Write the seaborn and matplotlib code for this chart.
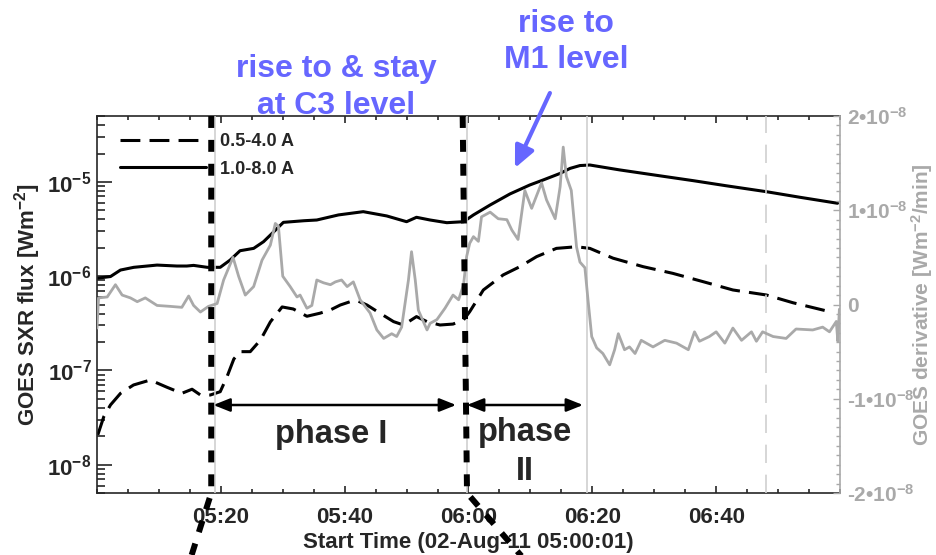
import numpy as np
import pandas as pd
import matplotlib
matplotlib.use("Agg")
import matplotlib.pyplot as plt
import matplotlib.ticker as mticker
import matplotlib.transforms as mtransforms
import seaborn as sns

# ---------------------------------------------------------------------------
# GOES light curves, time in minutes after 02-Aug-11 05:00:01
# ---------------------------------------------------------------------------
long_t = [0.03, 2.18, 3.79, 5.94, 9.7, 12.9, 14.5, 15.6, 17.8, 19.9, 21.5, 23.1,
          25.3, 26.9, 28.3, 30.1, 33.4, 35.5, 39.0, 43.0, 46.8, 50.0, 51.6, 53.8,
          56.5, 59.2, 60.8, 63.5, 66.7, 69.9, 72.1, 74.8, 76.4, 78.0, 79.6, 84.4,
          90.9, 96.3, 101.6, 108.1, 113.5, 119.6]
long_flux = [9.5e-7, 9.9e-7, 1.16e-6, 1.24e-6, 1.31e-6, 1.28e-6, 1.28e-6, 1.30e-6,
             1.24e-6, 1.24e-6, 1.48e-6, 1.86e-6, 1.97e-6, 2.32e-6, 2.85e-6, 3.72e-6,
             3.87e-6, 3.94e-6, 4.46e-6, 4.83e-6, 4.35e-6, 3.78e-6, 4.21e-6, 3.94e-6,
             3.69e-6, 3.78e-6, 4.46e-6, 5.69e-6, 7.45e-6, 9.27e-6, 1.05e-5, 1.23e-5,
             1.39e-5, 1.49e-5, 1.51e-5, 1.34e-5, 1.16e-5, 1.03e-5, 9.1e-6, 7.87e-6,
             6.87e-6, 5.93e-6]

short_t = [0.13, 1.1, 2.18, 3.8, 5.9, 8.6, 11.3, 13.7, 15.35, 16.7, 18.3, 19.9,
           21.0, 22.1, 23.1, 24.75, 26.4, 28.0, 29.9, 31.7, 33.9, 36.0, 37.7, 39.3,
           40.9, 42.0, 43.6, 45.7, 47.9, 49.5, 51.6, 53.3, 55.4, 57.5, 59.2, 60.2,
           62.4, 65.6, 68.3, 71.0, 74.2, 77.45, 79.6, 83.35, 88.2, 93.0, 97.9,
           102.7, 108.1, 112.4, 118.3]
short_flux = [2.07e-8, 3.23e-8, 4.30e-8, 5.71e-8, 7.0e-8, 7.9e-8, 6.62e-8, 5.71e-8,
              6.31e-8, 5.48e-8, 5.48e-8, 5.94e-8, 8.57e-8, 1.32e-7, 1.58e-7, 1.58e-7,
              2.10e-7, 3.27e-7, 4.71e-7, 4.48e-7, 3.75e-7, 4.04e-7, 4.38e-7, 4.94e-7,
              5.36e-7, 5.50e-7, 4.94e-7, 4.04e-7, 3.29e-7, 3.03e-7, 3.72e-7, 3.29e-7,
              3.03e-7, 3.10e-7, 3.43e-7, 4.20e-7, 7.13e-7, 1.03e-6, 1.26e-6, 1.61e-6,
              1.97e-6, 2.05e-6, 1.97e-6, 1.55e-6, 1.26e-6, 1.07e-6, 8.73e-7, 7.13e-7,
              6.31e-7, 5.22e-7, 4.20e-7]

# time derivative of the 1.0-8.0 A flux, in units of 1e-8 W m^-2 / min
deriv_t = [0.0, 0.25, 1.65, 2.98, 4.06, 5.4, 6.5, 7.8, 9.7, 11.85, 13.7, 14.8, 15.6,
           16.7, 18.0, 19.4, 20.45, 21.97, 22.87, 23.95, 25.3, 26.65, 28.0, 28.8,
           29.3, 30.0, 31.2, 32.3, 32.8, 33.9, 34.7, 35.5, 36.6, 37.7, 38.5, 39.5,
           40.4, 41.4, 42.5, 44.1, 45.2, 46.3, 47.6, 48.4, 49.2, 50.3, 50.8, 51.4,
           51.9, 53.3, 53.8, 54.9, 56.2, 57.5, 58.4, 59.2, 59.7, 60.2, 60.8, 61.6,
           62.1, 63.5, 64.8, 66.2, 67.0, 68.0, 69.1, 70.2, 71.8, 72.6, 74.0, 74.8,
           75.3, 75.8, 76.6, 77.45, 78.0, 78.8, 79.3, 79.9, 80.7, 81.7, 82.8, 83.6,
           84.2, 85.2, 86.0, 86.9, 87.9, 89.8, 91.7, 93.6, 95.5, 96.5, 97.3, 98.9,
           100.0, 101.4, 102.7, 104.1, 105.7, 106.5, 107.5, 109.2, 111.3, 112.9,
           115.6, 117.2, 118.3, 119.4, 119.65, 119.9]
deriv_val = [-0.25, 0.07, 0.08, 0.21, 0.10, 0.07, 0.03, 0.07, -0.01, -0.02, -0.03,
             0.09, -0.01, -0.08, -0.02, 0.01, 0.26, 0.50, 0.30, 0.10, 0.19, 0.47,
             0.63, 0.86, 0.83, 0.30, 0.19, 0.08, 0.10, -0.04, -0.01, 0.26, 0.23,
             0.21, 0.24, 0.26, 0.19, 0.24, 0.05, -0.09, -0.27, -0.36, -0.31, -0.34,
             -0.24, 0.26, 0.56, 0.26, -0.06, -0.27, -0.20, -0.16, -0.04, 0.10, 0.05,
             0.21, 0.51, 0.65, 0.72, 0.67, 0.93, 0.98, 0.91, 0.90, 0.79, 0.69, 1.21,
             1.02, 1.29, 1.11, 0.91, 1.25, 1.67, 1.36, 1.21, 0.61, 0.45, 0.39, 0.05,
             -0.34, -0.46, -0.52, -0.64, -0.48, -0.31, -0.48, -0.45, -0.52, -0.38,
             -0.45, -0.38, -0.41, -0.48, -0.29, -0.39, -0.34, -0.29, -0.41, -0.25,
             -0.38, -0.29, -0.39, -0.29, -0.34, -0.36, -0.26, -0.27, -0.24, -0.29,
             -0.18, -0.39, -0.05]

# axis ticks
xtick_pos = [20, 40, 60, 80, 100]
xtick_labels = ["05:20", "05:40", "06:00", "06:20", "06:40"]
ytick_pos = [1e-8, 1e-7, 1e-6, 1e-5]
ytick_labels = ["10$^{-8}$", "10$^{-7}$", "10$^{-6}$", "10$^{-5}$"]
rtick_pos = [-2, -1, 0, 1, 2]
rtick_labels = ["-2\u202210$^{-8}$", "-1\u202210$^{-8}$", "0",
                "1\u202210$^{-8}$", "2\u202210$^{-8}$"]

# event markers (minutes)
phase_bounds = [18.45, 59.06]          # start of phase I, start of phase II
ref_lines_solid = [19.0, 59.8, 79.06]
ref_lines_dashed = [108.1]
phase1_span = (18.8, 58.0)
phase2_span = (59.75, 78.5)

GRAY = "#a9a9a9"
LIGHT = "#cfcfcf"
BLUE = "#6666ff"

sns.set_style("ticks")
plt.rcParams.update({
    "font.family": ["Liberation Sans", "DejaVu Sans"],
    "font.weight": "bold",
    "mathtext.fontset": "custom",
    "mathtext.rm": "Liberation Sans:bold",
    "mathtext.bf": "Liberation Sans:bold",
    "mathtext.it": "Liberation Sans:italic:bold",
    "mathtext.default": "rm",
    "axes.linewidth": 1.2,
})

fig = plt.figure(figsize=(9.37, 5.55), dpi=100)
ax = fig.add_axes([97 / 937, 1 - 493 / 555, 743 / 937, 377 / 555])

long_df = pd.DataFrame({"t": long_t, "flux": long_flux})
short_df = pd.DataFrame({"t": short_t, "flux": short_flux})
deriv_df = pd.DataFrame({"t": deriv_t, "d": deriv_val})

sns.lineplot(data=short_df, x="t", y="flux", ax=ax, color="black", lw=2.2,
             ls=(0, (6.5, 3)), estimator=None, label="0.5-4.0 A")
sns.lineplot(data=long_df, x="t", y="flux", ax=ax, color="black", lw=2.2,
             estimator=None, label="1.0-8.0 A")
ax.set_yscale("log")
ax.set_xlim(0, 120)
ax.set_ylim(5e-9, 5e-5)

ax.set_xticks(xtick_pos, labels=xtick_labels)
ax.xaxis.set_minor_locator(mticker.MultipleLocator(5))
ax.set_yticks(ytick_pos, labels=ytick_labels)
ax.yaxis.set_minor_locator(mticker.LogLocator(base=10, subs=np.arange(2, 10)))
ax.yaxis.set_minor_formatter(mticker.NullFormatter())
ax.tick_params(axis="x", which="both", direction="in", top=True, bottom=True,
               width=1.2, labelsize=16, pad=10)
ax.tick_params(axis="x", which="major", length=5)
ax.tick_params(axis="x", which="minor", length=3)
ax.tick_params(axis="y", which="both", direction="in", left=True, right=False,
               width=1.2, labelsize=16, pad=4)
ax.tick_params(axis="y", which="major", length=10.5)
ax.tick_params(axis="y", which="minor", length=5.5)
ax.spines["right"].set_visible(False)

ax.set_xlabel("Start Time (02-Aug-11 05:00:01)", fontsize=16, fontweight="bold",
              labelpad=3)
ax.set_ylabel("GOES SXR flux [Wm$^{-2}$]", fontsize=16, fontweight="bold",
              va="center", ha="center")
ax.yaxis.set_label_coords(-0.093, 0.5)

handles, labels = ax.get_legend_handles_labels()
ax.legend(handles, labels, loc="upper left", bbox_to_anchor=(0.031, 0.955),
          frameon=False, fontsize=13, handlelength=4.75, handletextpad=0.8,
          labelspacing=0.6, borderpad=0, borderaxespad=0)

# derivative on the right-hand axis
ax2 = ax.twinx()
sns.lineplot(data=deriv_df, x="t", y="d", ax=ax2, color=GRAY, lw=2.0,
             estimator=None, legend=False)
ax2.set_xlim(0, 120)
ax2.set_ylim(-2, 2)
ax2.set_yticks(rtick_pos, labels=rtick_labels)
ax2.yaxis.set_minor_locator(mticker.MultipleLocator(0.1))
ax2.tick_params(axis="y", which="both", direction="in", colors=GRAY, width=1.0,
                labelsize=15, pad=5)
ax2.tick_params(axis="y", which="major", length=5)
ax2.tick_params(axis="y", which="minor", length=3)
for side in ("left", "top", "bottom"):
    ax2.spines[side].set_visible(False)
ax2.spines["right"].set_color(GRAY)
ax2.set_xlabel("")
ax2.set_ylabel("GOES derivative [Wm$^{-2}$/min]", fontsize=15,
               fontweight="bold", color=GRAY, rotation=90, va="center",
               ha="center")
ax2.yaxis.set_label_coords(1.111, 0.5)

# reference times
for t in ref_lines_solid:
    ax2.axvline(t, color=LIGHT, lw=1.2, zorder=1)
for t in ref_lines_dashed:
    ax2.axvline(t, color=LIGHT, lw=1.2, ls=(0, (11, 7)), zorder=1)

blend = mtransforms.blended_transform_factory(ax2.transData, ax2.transAxes)

# phase boundaries, continuing below the panel
ax2.plot([phase_bounds[0], phase_bounds[0], 15.24 - 1.6], [1.0, 0.0, -0.25],
         transform=blend, color="black", lw=4.3, ls=(0, (2, 2)),
         clip_on=False, zorder=6)
ax2.plot([phase_bounds[1], phase_bounds[1] + 0.7, 72.9], [1.0, 0.0, -0.25],
         transform=blend, color="black", lw=4.3, ls=(0, (2, 2)),
         clip_on=False, zorder=6)

arrow_kw = dict(arrowstyle="<|-|>,head_length=0.5,head_width=0.2", lw=1.8,
                color="black", shrinkA=0, shrinkB=0, mutation_scale=20)
ax2.annotate("", xy=(phase1_span[1], 0.2334), xytext=(phase1_span[0], 0.2334),
             xycoords=blend, textcoords=blend, arrowprops=arrow_kw)
ax2.annotate("", xy=(phase2_span[1], 0.2334), xytext=(phase2_span[0], 0.2334),
             xycoords=blend, textcoords=blend, arrowprops=arrow_kw)

ax2.text(37.9, 0.133, "phase I", transform=blend, ha="center", va="baseline",
         fontsize=23.5, fontweight="bold")
ax2.text(69.1, 0.138, "phase", transform=blend, ha="center", va="baseline",
         fontsize=23.5, fontweight="bold")
ax2.text(69.1, 0.0345, "II", transform=blend, ha="center", va="baseline",
         fontsize=23.5, fontweight="bold")

# annotations above the panel
for txt, yy in (("rise to & stay", 1.1034), ("at C3 level", 1.0053)):
    ax2.text(38.6, yy, txt, transform=blend, ha="center", va="baseline",
             fontsize=23, fontweight="bold", color=BLUE, clip_on=False)
for txt, yy in (("rise to", 1.2236), ("M1 level", 1.1265)):
    ax2.text(75.8, yy, txt, transform=blend, ha="center", va="baseline",
             fontsize=23, fontweight="bold", color=BLUE, clip_on=False)
ax2.annotate("", xy=(67.5, 0.862), xytext=(73.15, 1.061), xycoords=blend,
             textcoords=blend, annotation_clip=False,
             arrowprops=dict(arrowstyle="-|>,head_length=0.65,head_width=0.3",
                             lw=3, color=BLUE, shrinkA=0, shrinkB=0,
                             mutation_scale=20))

fig.savefig("out.png", dpi=100)
